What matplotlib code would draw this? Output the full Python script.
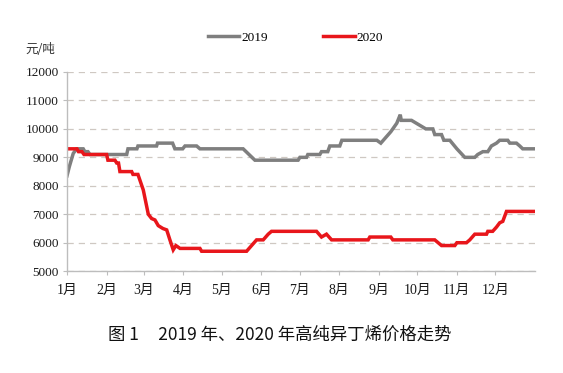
import matplotlib.pyplot as plt

# day of year (0 = 1 Jan) and price in 元/吨
days_2019 = [0, 1.8, 4.9, 7.6, 12.7, 14, 16.4, 18, 46.7, 47.7, 54.7, 55.5, 70.1, 70.8,
             82.6, 84.4, 90.5, 92.3, 101.4, 104, 137.8, 147, 180.8, 182.2, 187.4, 188.4,
             197.8, 199.1, 204, 205.6, 213.4, 215, 242.4, 245.5, 253.3, 258, 260.7, 261.5,
             269.5, 280.7, 286.2, 287.7, 293, 294.8, 299.5, 305, 311.2, 319, 321.3, 325.3,
             329.2, 332, 336, 338.5, 344.8, 346.4, 351.6, 354.2, 356.5, 366]
price_2019 = [8350, 8670, 9140, 9300, 9300, 9200, 9200, 9100, 9100, 9300, 9300, 9400, 9400, 9500,
              9500, 9300, 9300, 9400, 9400, 9300, 9300, 8900, 8900, 9000, 9000, 9100,
              9100, 9200, 9200, 9400, 9400, 9600, 9600, 9500, 9900, 10200, 10500, 10300,
              10300, 10000, 10000, 9800, 9800, 9600, 9600, 9300, 9000, 9000, 9100, 9200,
              9200, 9400, 9500, 9600, 9600, 9500, 9500, 9400, 9300, 9300]

days_2020 = [0, 7.8, 9, 11.7, 13.3, 31, 32, 37.5, 38.9, 40.3, 41.4, 50.6, 51.6, 55.5,
             59.7, 63.6, 66.2, 68.8, 71.4, 75, 78, 80.5, 83.1, 85.2, 88.4, 104, 105.3,
             140.5, 144.4, 148.3, 153.5, 157.4, 160, 195.2, 199.1, 203, 207, 235.6, 236.9,
             253.3, 254.9, 287.7, 293, 303.4, 305, 312.5, 315.1, 319, 328.2, 329.2, 333,
             336, 338.5, 340.9, 343.8, 366]
price_2020 = [9300, 9300, 9200, 9200, 9100, 9100, 8900, 8900, 8800, 8800, 8500, 8500, 8400, 8400,
              7850, 7000, 6850, 6800, 6600, 6500, 6450, 6100, 5750, 5900, 5800, 5800, 5700,
              5700, 5900, 6100, 6100, 6300, 6400, 6400, 6200, 6300, 6100, 6100, 6200,
              6200, 6100, 6100, 5900, 5900, 6000, 6000, 6100, 6300, 6300, 6400, 6400,
              6550, 6700, 6750, 7100, 7100]

month_starts = [0, 31, 60, 91, 121, 152, 182, 213, 244, 274, 305, 335]
month_labels = [f"{m}月" for m in range(1, 13)]
y_ticks = list(range(5000, 12001, 1000))

num_font = ["Liberation Serif", "Noto Sans CJK SC"]

fig = plt.figure(figsize=(5.63, 3.73), dpi=100)
ax = fig.add_axes([0.119, 0.273, 0.831, 0.534])

ax.plot(days_2019, price_2019, color="#7f7f7f", lw=2.5, label="2019", solid_joinstyle="miter")
ax.plot(days_2020, price_2020, color="#e8161b", lw=2.5, label="2020", solid_joinstyle="miter")

ax.set_xlim(0, 366)
ax.set_ylim(5000, 12000)
ax.set_xticks(month_starts)
ax.set_xticklabels(month_labels, family=num_font, fontsize=10)
ax.set_yticks(y_ticks)
ax.set_yticklabels([str(v) for v in y_ticks], family=num_font, fontsize=9.5)

ax.grid(axis="y", color="#cfc8c2", ls=(0, (5, 4)), lw=0.9)
ax.set_axisbelow(True)
for side in ("top", "right"):
    ax.spines[side].set_visible(False)
for side in ("left", "bottom"):
    ax.spines[side].set_color("#bdbdbd")
    ax.spines[side].set_linewidth(1.0)
ax.tick_params(axis="both", colors="#bdbdbd", length=3, width=0.8, labelcolor="#1a1a1a")
ax.tick_params(axis="x", pad=6)
ax.tick_params(axis="y", pad=3)

leg = fig.legend(loc="center", bbox_to_anchor=(0.525, 0.899), ncol=2, frameon=False,
                 handlelength=2.4, handletextpad=0.15, columnspacing=4.2,
                 prop={"family": num_font, "size": 9.5})

fig.text(0.045, 0.868, "元/吨", family=["Noto Sans CJK SC", "DejaVu Sans"], fontsize=9,
         ha="left", va="center", color="#333333")

fig.text(0.497, 0.102, "图 1     2019 年、2020 年高纯异丁烯价格走势",
         family=["Noto Sans CJK SC", "DejaVu Sans"], fontsize=12.5,
         ha="center", va="center", color="#111111")

fig.savefig("out.png", dpi=100)
